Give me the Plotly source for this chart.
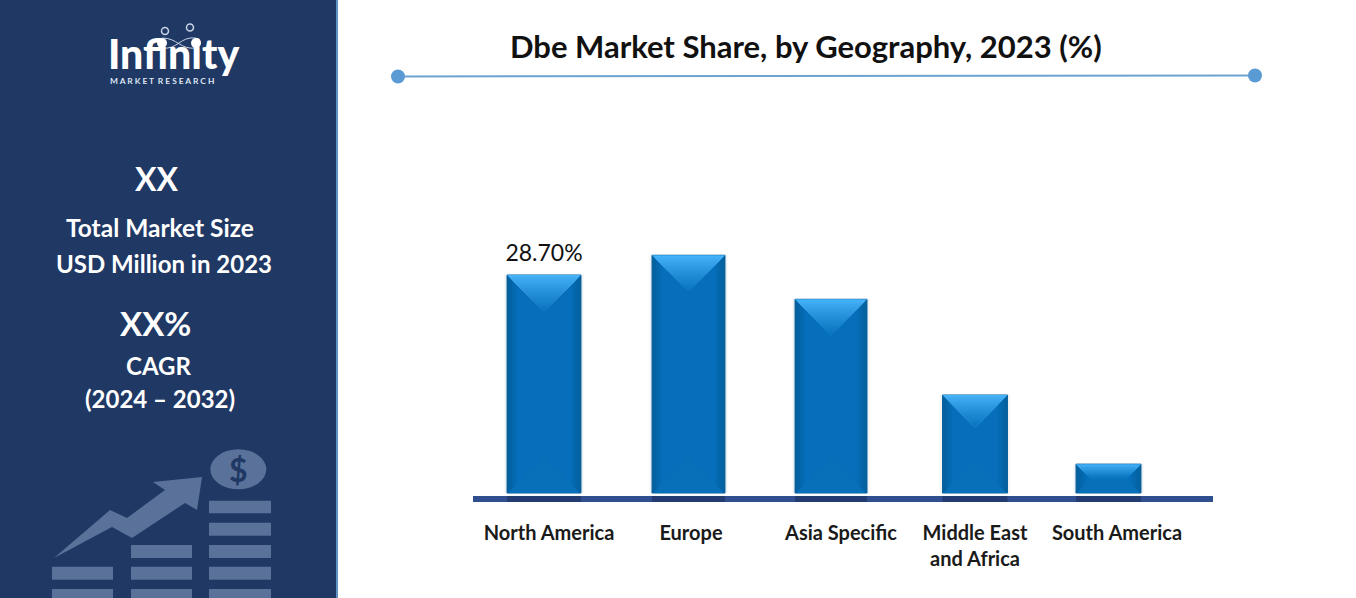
import plotly.graph_objects as go

# chart data
regions = ["North America", "Europe", "Asia Specific", "Middle East<br>and Africa", "South America"]
shares = [28.7, 31.3, 25.5, 12.9, 3.8]
share_labels = ["28.70%", "", "", "", ""]

# page size and the pixel box of the plot
W, H = 1356, 598
LEFT, RIGHT, TOP, BOTTOM = 473, 1213, 100, 502
STEP = 142            # px between categories
PER_PX = 28.7 / 218   # share points per px
GAP = 3               # px between bars and the base line
LINE = 6              # base line thickness, px

# per-bar styling, px
bar_widths = [74, 73, 72, 65, 65]
bar_nudges = [-5, -2.5, -2, 0, -8.5]
tick_nudges = [0, 0, 8, 0, 0]

PANEL = "#1f3864"
ICON = "#5a7199"
FONT = "Lato"


def fx(x):
    return x / W


def fy(y):
    return 1 - y / H


def mix(c1, c2, t):
    a = [int(c1[i:i + 2], 16) for i in (1, 3, 5)]
    b = [int(c2[i:i + 2], 16) for i in (1, 3, 5)]
    return "rgb(%d,%d,%d)" % tuple(p + (q - p) * t for p, q in zip(a, b))


centres = [i + n / STEP for i, n in enumerate(bar_nudges)]
fig = go.Figure()

# soft shadow, then the bars
fig.add_trace(go.Bar(
    x=centres, y=shares, width=[(w + 4) / STEP for w in bar_widths],
    marker=dict(color="rgba(40,60,90,0.04)", line=dict(width=2, color="rgba(40,60,90,0.03)")),
    hoverinfo="skip",
))
# dark patch the bars throw on the base line
fig.add_trace(go.Bar(
    x=centres, y=[LINE * PER_PX] * len(shares), base=[-(GAP + LINE) * PER_PX] * len(shares),
    width=[w / STEP for w in bar_widths],
    marker=dict(color="rgba(20,30,70,0.4)", line_width=0),
    hoverinfo="skip",
))
fig.add_trace(go.Bar(
    x=centres, y=shares, width=[w / STEP for w in bar_widths],
    marker=dict(color="#05609c", line=dict(width=1, color="#0b62a0")),
    hoverinfo="skip",
))


def add_polys(points_for_bar, color):
    # one trace for all five bars, polygons split by None
    xs, ys = [], []
    for i in range(len(shares)):
        for px_, py_ in points_for_bar(i):
            xs.append(centres[i] + px_ / STEP)
            ys.append(py_)
        xs.append(None)
        ys.append(None)
    fig.add_trace(go.Scatter(
        x=xs, y=ys, mode="lines", fill="toself", fillcolor=color,
        line=dict(width=0), hoverinfo="skip",
    ))


def depth(i):
    return min(bar_widths[i] / 2, shares[i] / PER_PX / 2)


# body, lighter towards the middle of each bar
for k in range(1, 7):
    def side(i, k=k):
        hw = bar_widths[i] / 2 - k * 1.6
        return [(-hw, 0), (hw, 0), (hw, shares[i]), (-hw, shares[i]), (-hw, 0)]
    add_polys(side, mix("#05609c", "#066eba", k / 6))

# bottom bevel
def bottom_bevel(i):
    hw = bar_widths[i] / 2 - 1
    d = depth(i) * PER_PX
    inner = bar_widths[i] / 2 - depth(i)
    return [(-hw, 0), (hw, 0), (inner, d), (-inner, d), (-hw, 0)]


add_polys(bottom_bevel, "#086fb9")

# top bevel, nested pieces going from light to dark
LEVELS = 16
for k in range(LEVELS):
    t = k / LEVELS

    def top_bevel(i, t=t):
        hw = bar_widths[i] / 2
        d = depth(i)
        y_top = shares[i] - t * d * PER_PX
        y_low = shares[i] - d * PER_PX
        return [(-(hw - t * d), y_top), (hw - t * d, y_top), (hw - d, y_low),
                (-(hw - d), y_low), (-(hw - t * d), y_top)]
    add_polys(top_bevel, mix("#45b2f8", "#0770bd", t ** 0.85))

# value label sits a little clear of the bar
fig.add_trace(go.Scatter(
    x=centres, y=[s + 8 * PER_PX for s in shares], text=share_labels,
    mode="text", textposition="top center", cliponaxis=False,
    textfont=dict(family=FONT, size=23, color="#111111"),
    hoverinfo="skip",
))

# page decoration
shapes = [
    dict(type="rect", xref="paper", yref="paper", x0=0, x1=fx(336), y0=0, y1=1,
         fillcolor=PANEL, line_width=0, layer="below"),
    dict(type="rect", xref="paper", yref="paper", x0=fx(336), x1=fx(338), y0=0, y1=1,
         fillcolor="#5f93c4", line_width=0, layer="below"),
    dict(type="rect", xref="paper", yref="paper", x0=fx(LEFT), x1=fx(RIGHT), y0=fy(BOTTOM), y1=fy(BOTTOM - LINE),
         fillcolor="#2f4f8f", line_width=0, layer="below"),
    dict(type="line", xref="paper", yref="paper", x0=fx(398), y0=fy(76.5), x1=fx(1255), y1=fy(75.5),
         line=dict(color="#6ba3d3", width=2)),
]


def circle(cx, cy, rx, ry=None, fill=None, line=None):
    ry = rx if ry is None else ry
    return dict(type="circle", xref="paper", yref="paper",
                x0=fx(cx - rx), x1=fx(cx + rx), y0=fy(cy + ry), y1=fy(cy - ry),
                fillcolor=fill, line=dict(width=1.5 if line else 0, color=line))


def page_path(points, closed=True):
    d = "M" + " L".join("%.5f,%.5f" % (fx(x), fy(y)) for x, y in points)
    return d + (" Z" if closed else "")


shapes += [circle(398, 76.5, 7, fill="#5b9bd5"), circle(1255, 75.5, 7, fill="#5b9bd5")]

# growth icon at the foot of the panel
rows = [(500.7, 513.3), (522.7, 535.7), (545, 558), (566.7, 579.7), (589, 598)]
columns = [(52, 113, 3), (131, 192, 2), (209, 271, 0)]
for x0, x1, first in columns:
    for y0, y1 in rows[first:]:
        shapes.append(dict(type="rect", xref="paper", yref="paper", x0=fx(x0), x1=fx(x1),
                           y0=fy(y1), y1=fy(y0), fillcolor=ICON, line_width=0))
arrow = [(54, 558), (110, 510), (127, 518), (165, 490), (153, 482), (202, 477),
         (197, 510), (185, 503), (132, 538), (112, 527)]
shapes.append(dict(type="path", xref="paper", yref="paper", path=page_path(arrow),
                   fillcolor=ICON, line_width=0))
shapes.append(circle(238.3, 469.3, 28, 20, fill=ICON))

# logo marks
shapes += [
    circle(165, 31, 3.5, line="#c9d3e6"), circle(190, 27.5, 3.5, line="#c9d3e6"),
    circle(162, 43, 5, fill="white"), circle(196, 43, 5, fill="white"),
]
for sweep in [((162, 38), (178, 38), (180, 50), (196, 48)), ((162, 48), (178, 50), (180, 36), (196, 38))]:
    (ax, ay), (bx, by), (cx, cy), (dx, dy) = sweep
    shapes.append(dict(type="path", xref="paper", yref="paper",
                       path="M%.5f,%.5f C%.5f,%.5f %.5f,%.5f %.5f,%.5f" % (
                           fx(ax), fy(ay), fx(bx), fy(by), fx(cx), fy(cy), fx(dx), fy(dy)),
                       line=dict(color="#c9d3e6", width=1)))

# texts placed on the page
texts = [
    ("Dbe Market Share, by Geography, 2023 (%)", 806, 46, 31, "#111111", 700),
    ("XX", 156, 178, 32, "white", 700),
    ("Total Market Size", 160, 228, 24.5, "white", 700),
    ("USD Million in 2023", 164, 263, 24, "white", 700),
    ("XX%", 155, 323, 33, "white", 700),
    ("CAGR", 158, 365, 24, "white", 700),
    ("(2024 – 2032)", 160, 398, 24, "white", 700),
    ("Infinity", 173, 53, 41, "white", 900),
    ("M A R K E T  R E S E A R C H", 162, 81, 8.4, "#dfe6f2", 700),
    ("$", 238.3, 469.3, 32, PANEL, 700),
]
annotations = [
    dict(text=t, x=fx(x), y=fy(y), xref="paper", yref="paper",
         xanchor="center", yanchor="middle", showarrow=False,
         font=dict(size=size, color=color, family=FONT, weight=weight))
    for t, x, y, size, color, weight in texts
]

fig.update_layout(
    width=W, height=H, margin=dict(l=0, r=0, t=0, b=0),
    paper_bgcolor="white", plot_bgcolor="rgba(0,0,0,0)",
    showlegend=False, barmode="overlay", shapes=shapes, annotations=annotations,
)
fig.update_xaxes(
    domain=[fx(LEFT), fx(RIGHT)],
    range=[(LEFT - 549) / STEP, (RIGHT - 549) / STEP],
    tickmode="array",
    tickvals=[i + n / STEP for i, n in enumerate(tick_nudges)],
    ticktext=regions,
    tickfont=dict(family=FONT, size=20, color="#1a1a1a", weight=700),
    tickangle=0, ticks="", showgrid=False, zeroline=False, showline=False,
    ticklabelstandoff=17,
)
fig.update_yaxes(
    domain=[fy(BOTTOM), fy(TOP)],
    range=[-(GAP + LINE) * PER_PX, (BOTTOM - GAP - LINE - TOP) * PER_PX],
    visible=False,
)

fig.write_html("out.html", config=dict(displayModeBar=False), post_script="document.body.style.margin='0';")
